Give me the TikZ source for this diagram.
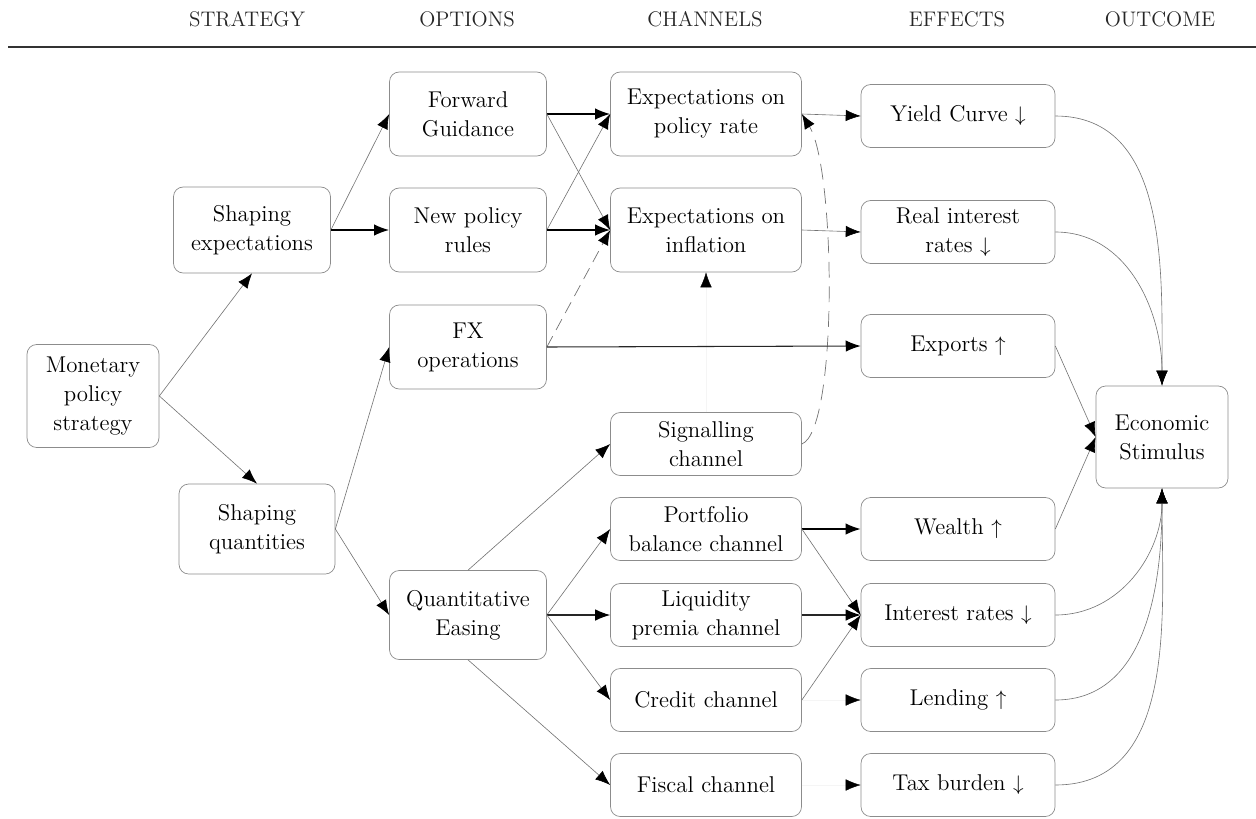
\documentclass[tikz,border=0pt]{standalone}
\usetikzlibrary{arrows.meta, positioning}

\begin{document}
\begin{tikzpicture}[x=0.02cm, y=-0.02cm, >={Latex[length=8.5pt,width=6.5pt,black]},
    box/.style={draw=black!45, rounded corners=5.5pt, align=center, inner sep=0pt,
        font=\fontsize{13}{16.5}\selectfont},
    head/.style={font=\fontsize{12}{14}\selectfont, text=black!85},
    weak/.style={->, draw=black!55, line width=0.35pt},
    strong/.style={->, black, line width=0.9pt},
    plain/.style={->, black!85, line width=0.6pt},
    hint/.style={->, draw=black!55, line width=0.4pt, dash pattern=on 7pt off 4pt},
    ghost/.style={->, draw=black!4, line width=0.2pt}]

    \useasboundingbox (0,0) rectangle (1256,818);

    % column titles and rule
    \node[head] (hstrat) at (247,19) {STRATEGY};
    \node[head] (hopt)   at (467,19) {OPTIONS};
    \node[head] (hchan)  at (705,19) {CHANNELS};
    \node[head] (heff)   at (957,19) {EFFECTS};
    \node[head] (hout)   at (1160,19) {OUTCOME};
    \draw[line width=1.2pt, black!80] (8,47) -- (1256,47);

    % strategy
    \node[box, minimum width=2.64cm, minimum height=2.06cm] (mps) at (93,396) {Monetary\\policy\\strategy};
    \node[box, minimum width=3.14cm, minimum height=1.72cm] (se) at (252,230) {Shaping\\expectations};
    \node[box, minimum width=3.12cm, minimum height=1.8cm] (sq) at (257,529) {Shaping\\quantities};

    % options
    \node[box, minimum width=3.14cm, minimum height=1.68cm] (fg)  at (468,114) {Forward\\Guidance};
    \node[box, minimum width=3.14cm, minimum height=1.68cm] (npr) at (468,230) {New policy\\rules};
    \node[box, minimum width=3.14cm, minimum height=1.68cm] (fx)  at (468,347) {FX\\operations};
    \node[box, minimum width=3.14cm, minimum height=1.78cm] (qe)  at (468,615) {Quantitative\\Easing};

    % channels
    \node[box, minimum width=3.82cm, minimum height=1.68cm] (epr)  at (706,114) {Expectations on\\policy rate};
    \node[box, minimum width=3.82cm, minimum height=1.68cm] (einf) at (706,230) {Expectations on\\inflation};
    \node[box, minimum width=3.82cm, minimum height=1.26cm] (sig)  at (706,444) {Signalling\\channel};
    \node[box, minimum width=3.82cm, minimum height=1.26cm] (port) at (706,529) {Portfolio\\balance channel};
    \node[box, minimum width=3.82cm, minimum height=1.26cm] (liq)  at (706,615) {Liquidity\\premia channel};
    \node[box, minimum width=3.82cm, minimum height=1.26cm] (cred) at (706,700) {Credit channel};
    \node[box, minimum width=3.82cm, minimum height=1.26cm] (fisc) at (706,785) {Fiscal channel};

    % effects
    \node[box, minimum width=3.88cm, minimum height=1.26cm] (yc)   at (958,116) {Yield Curve $\downarrow$};
    \node[box, minimum width=3.88cm, minimum height=1.26cm] (rir)  at (958,232) {Real interest\\rates $\downarrow$};
    \node[box, minimum width=3.88cm, minimum height=1.26cm] (exp)  at (958,346) {Exports $\uparrow$};
    \node[box, minimum width=3.88cm, minimum height=1.26cm] (wlth) at (958,529) {Wealth $\uparrow$};
    \node[box, minimum width=3.88cm, minimum height=1.26cm] (ir)   at (958,615) {Interest rates $\downarrow$};
    \node[box, minimum width=3.88cm, minimum height=1.26cm] (lend) at (958,700) {Lending $\uparrow$};
    \node[box, minimum width=3.88cm, minimum height=1.26cm] (tax)  at (958,785) {Tax burden $\downarrow$};

    % outcome
    \node[box, minimum width=2.64cm, minimum height=2.04cm] (es) at (1162,437) {Economic\\Stimulus};

    % strategy -> options
    \draw[weak] (mps.east) -- (se.south);
    \draw[weak] (mps.east) -- (sq.north);
    \draw[weak] (se.east) -- (fg.west);
    \draw[strong] (se.east) -- (npr.west);
    \draw[weak] (sq.east) -- (fx.west);
    \draw[weak] (sq.east) -- (qe.west);

    % options -> channels
    \draw[strong] (fg.east) -- (epr.west);
    \draw[weak] (fg.east) -- (einf.west);
    \draw[weak] (npr.east) -- (epr.west);
    \draw[strong] (npr.east) -- (einf.west);
    \draw[hint] (fx.east) -- (einf.west);
    \draw[weak] (qe.north) -- (sig.west);
    \draw[weak] (qe.east) -- (port.west);
    \draw[plain] (qe.east) -- (liq.west);
    \draw[weak] (qe.east) -- (cred.west);
    \draw[weak] (qe.south) -- (fisc.west);

    % signalling feeds back into the expectations
    \draw[hint, dash pattern=on 9pt off 5pt] (sig.east) .. controls (838,430) and (836,170) .. (epr.east);
    \draw[ghost] (sig.north) -- (einf.south);

    % channels -> effects
    \draw[plain] (fx.east) -- (exp.west);
    \draw[weak] (epr.east) -- (yc.west);
    \draw[weak] (einf.east) -- (rir.west);
    \draw[strong] (port.east) -- (wlth.west);
    \draw[weak] (port.east) -- (ir.west);
    \draw[plain] (liq.east) -- (ir.west);
    \draw[weak] (cred.east) -- (ir.west);
    \draw[ghost] (cred.east) -- (lend.west);
    \draw[ghost] (fisc.east) -- (tax.west);

    % effects -> outcome
    \draw[weak] (yc.east) to[out=0, in=90] (es.north);
    \draw[weak] (rir.east) to[out=0, in=90] (es.north);
    \draw[weak] (exp.east) -- (es.west);
    \draw[weak] (wlth.east) -- (es.west);
    \draw[weak] (ir.east) to[out=0, in=-90] (es.south);
    \draw[weak] (lend.east) to[out=0, in=-90] (es.south);
    \draw[weak] (tax.east) to[out=0, in=-90] (es.south);

\end{tikzpicture}
\end{document}
